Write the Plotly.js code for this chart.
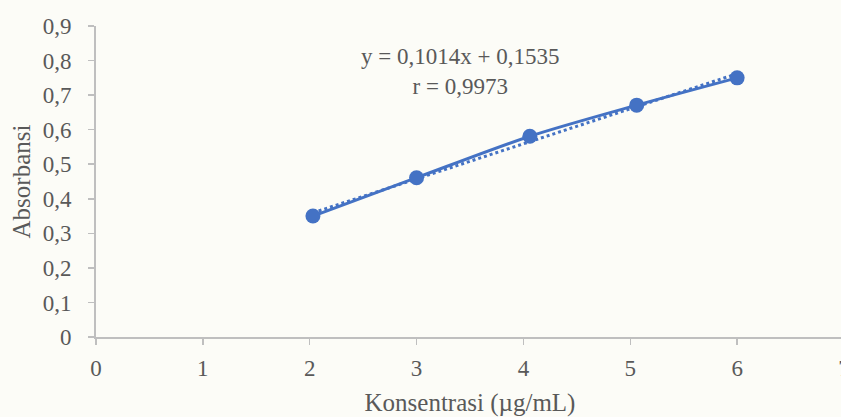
<!DOCTYPE html>
<html>
<head>
<meta charset="utf-8">
<script src="https://cdn.plot.ly/plotly-3.0.1.min.js"></script>
<style>
  html, body { margin: 0; padding: 0; overflow: hidden; background: #fcfcf7; }
  #chart { width: 900px; height: 417px; }
</style>
</head>
<body>
<div id="chart"></div>
<script>
// Data
const konsentrasi = [2.03, 3.0, 4.06, 5.06, 6.0];
const absorbansi = [0.35, 0.461, 0.581, 0.671, 0.75];
const slope = 0.1014;
const intercept = 0.1535;
const rValue = '0,9973';
const xTitle = 'Konsentrasi (µg/mL)';
const yTitle = 'Absorbansi';

const blue = '#4472C4';
const textColor = '#595959';
const axisColor = '#BFBFBF';
const fontFam = '"Liberation Serif", "Times New Roman", serif';

const xMin = Math.min(...konsentrasi);
const xMax = Math.max(...konsentrasi);
const trendX = [xMin, xMax];
const trendY = trendX.map(x => slope * x + intercept);

const traces = [
  {
    x: trendX, y: trendY, type: 'scatter', mode: 'lines',
    line: { color: blue, width: 3, dash: 'dot' },
    hoverinfo: 'skip', showlegend: false
  },
  {
    x: konsentrasi, y: absorbansi, type: 'scatter', mode: 'lines+markers',
    line: { color: blue, width: 3, shape: 'spline', smoothing: 0.8 },
    marker: { color: blue, size: 15 },
    showlegend: false
  }
];

const layout = {
  width: 900, height: 417,
  margin: { l: 95.5, r: 56, t: 26, b: 79.5 },
  paper_bgcolor: 'rgba(0,0,0,0)',
  plot_bgcolor: 'rgba(0,0,0,0)',
  separators: ',.',
  font: { family: fontFam, color: textColor, size: 23 },
  xaxis: {
    range: [0, 7], tick0: 0, dtick: 1, tickmode: 'linear',
    showgrid: false, zeroline: false,
    showline: true, linecolor: axisColor, linewidth: 2,
    ticks: 'outside', ticklen: 6, tickcolor: axisColor, tickwidth: 1.5,
    ticklabelstandoff: 3,
    tickfont: { family: fontFam, size: 23, color: textColor },
    title: { text: xTitle, font: { family: fontFam, size: 25, color: textColor }, standoff: 14 },
    fixedrange: true
  },
  yaxis: {
    range: [0, 0.9], tick0: 0, dtick: 0.1, tickmode: 'linear',
    showgrid: false, zeroline: false,
    showline: true, linecolor: axisColor, linewidth: 2,
    ticks: 'outside', ticklen: 6, tickcolor: axisColor, tickwidth: 1.5,
    ticklabelstandoff: 12,
    tickfont: { family: fontFam, size: 23, color: textColor },
    title: { text: yTitle, font: { family: fontFam, size: 25, color: textColor }, standoff: 5 },
    fixedrange: true
  },
  annotations: [{
    x: 3.41, y: 0.767, xref: 'x', yref: 'y',
    text: 'y = ' + String(slope).replace('.', ',') + 'x + ' + String(intercept).replace('.', ',') + '<br>r = ' + rValue,
    showarrow: false, align: 'center', xanchor: 'center', yanchor: 'middle',
    font: { family: fontFam, size: 23, color: textColor }
  }]
};

Plotly.newPlot('chart', traces, layout, { displayModeBar: false, staticPlot: true });
</script>
</body>
</html>
